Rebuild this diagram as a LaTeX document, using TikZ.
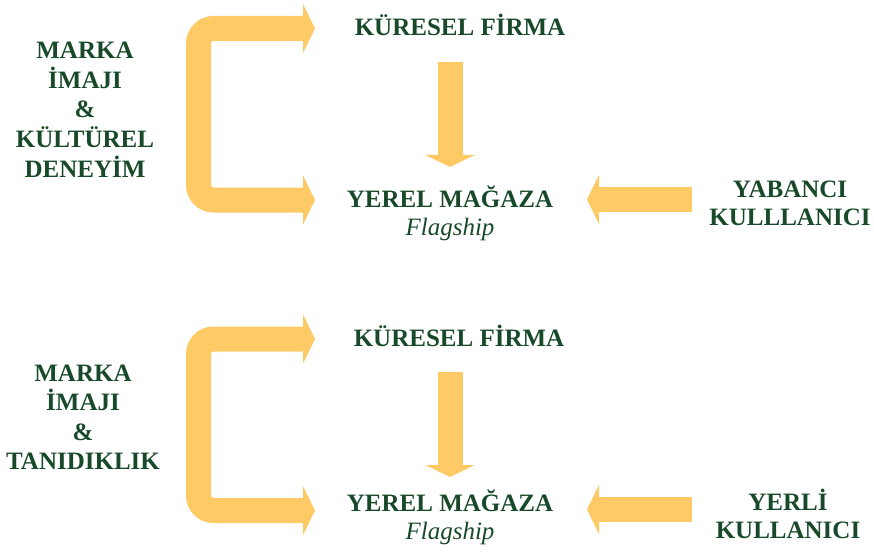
\documentclass[tikz,border=0pt]{standalone}
\usepackage{fontspec}
\setmainfont{Liberation Serif}
\usetikzlibrary{arrows.meta}
\definecolor{leafgreen}{RGB}{24,74,42}
\definecolor{sunyellow}{RGB}{254,202,102}
\begin{document}
\begin{tikzpicture}[x=1pt,y=-1pt,
  % multi-line labels are placed by the baseline of their last line
  lbl/.style={text=leafgreen, font=\bfseries\fontsize{25}{29.5}\selectfont,
    align=center, inner sep=0pt, anchor=base},
  duo/.style={lbl, font=\bfseries\fontsize{25}{28}\selectfont},
  fattip/.tip={Triangle[width=49pt,length=12pt]},
  fat/.style={draw=sunyellow, line width=25pt, line cap=butt, -fattip},
  bracket/.style={draw=sunyellow, line width=25pt, line cap=butt,
    rounded corners=15pt, fattip-fattip}]
\useasboundingbox (0,0) rectangle (874,556);

% upper scheme: foreign user
\node[lbl] (src1) at (85,177) {MARKA\\İMAJI\\\&\\KÜLTÜREL\\DENEYİM};
\node[lbl] (kf1) at (460,36) {KÜRESEL FİRMA};
\node[duo] (ym1) at (450,235) {YEREL MAĞAZA\\{\mdseries\itshape Flagship}};
\node[duo] (usr1) at (790,225) {YABANCI\\KULLLANICI};

\coordinate (b1a) at (315,28.5);
\coordinate (b1b) at (315,200);
\draw[bracket] (b1a) -- (198.5,28.5) -- (198.5,200) -- (b1b);
\coordinate (d1a) at (450,62);
\coordinate (d1b) at (450,167);
\draw[fat] (d1a) -- (d1b);
\coordinate (l1a) at (692,199.5);
\coordinate (l1b) at (587,199.5);
\draw[fat] (l1a) -- (l1b);

% lower scheme: local user
\node[lbl] (src2) at (83,469.5) {MARKA\\İMAJI\\\&\\TANIDIKLIK};
\node[lbl] (kf2) at (459,346) {KÜRESEL FİRMA};
\node[duo] (ym2) at (450,539) {YEREL MAĞAZA\\{\mdseries\itshape Flagship}};
\node[duo] (usr2) at (788,538) {YERLİ\\KULLANICI};

\coordinate (b2a) at (315,339);
\coordinate (b2b) at (315,510.5);
\draw[bracket] (b2a) -- (198.5,339) -- (198.5,510.5) -- (b2b);
\coordinate (d2a) at (450,372);
\coordinate (d2b) at (450,477);
\draw[fat] (d2a) -- (d2b);
\coordinate (l2a) at (692,509.5);
\coordinate (l2b) at (587,509.5);
\draw[fat] (l2a) -- (l2b);
\end{tikzpicture}
\end{document}
